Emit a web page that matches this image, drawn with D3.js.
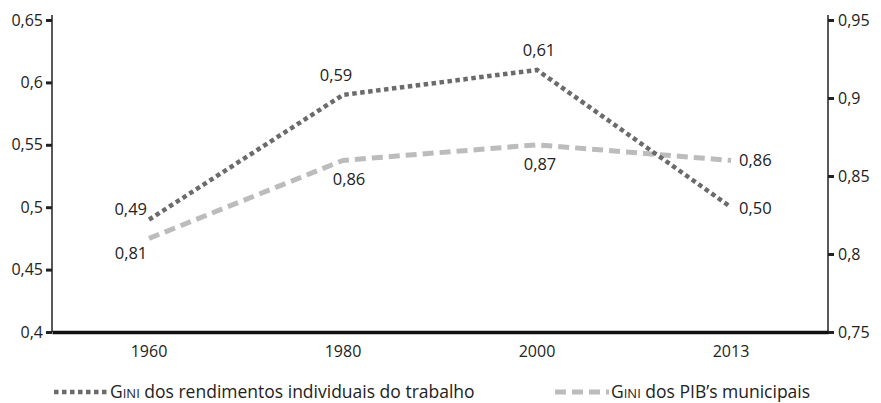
<!DOCTYPE html>
<html>
<head>
<meta charset="utf-8">
<script src="https://cdn.jsdelivr.net/npm/d3@7"></script>
<style>
  body { margin: 0; background: #fff; }
  svg { font-family: "Open Sans", "Noto Sans", sans-serif; }
</style>
</head>
<body>
<svg id="chart" width="881" height="403"></svg>
<script>
const years = ['1960', '1980', '2000', '2013'];
const giniRend = [0.49, 0.59, 0.61, 0.50];
const giniPib = [0.81, 0.86, 0.87, 0.86];
const leftTicks = [0.4, 0.45, 0.5, 0.55, 0.6, 0.65];
const rightTicks = [0.75, 0.8, 0.85, 0.9, 0.95];

// label offsets: [anchor, dx, dy] relative to the point
const rendLabelPos = [['end', -2, -5], ['middle', -7, -14], ['middle', 2, -14], ['start', 8, 7]];
const pibLabelPos = [['middle', -18, 21], ['middle', 6, 25], ['middle', 3, 25], ['start', 8, 6]];

const svg = d3.select('#chart');
const plotLeft = 52, plotRight = 828, plotTop = 20, plotBottom = 332;
const fmt = d => String(d).replace('.', ',');
const FONT = '"Open Sans", "Noto Sans", sans-serif';

const x = d3.scaleBand().domain(years).range([plotLeft, plotRight]);
const yL = d3.scaleLinear().domain([0.4, 0.65]).range([plotBottom, plotTop]);
const yR = d3.scaleLinear().domain([0.75, 0.95]).range([plotBottom, plotTop]);

const axisL = svg.append('g').attr('transform', `translate(${plotLeft},0)`)
  .call(d3.axisLeft(yL).tickValues(leftTicks).tickFormat(fmt).tickSize(6).tickPadding(3));
const axisR = svg.append('g').attr('transform', `translate(${plotRight},0)`)
  .call(d3.axisRight(yR).tickValues(rightTicks).tickFormat(fmt).tickSize(6).tickPadding(4));
[axisL, axisR].forEach(a => {
  a.select('.domain').remove();
  a.selectAll('.tick line').attr('stroke', '#222').attr('stroke-width', 3);
  a.selectAll('.tick text').attr('fill', '#222').style('font-size', '16px').style('font-family', FONT);
  a.append('line').attr('x1', 0).attr('x2', 0).attr('y1', plotTop - 5).attr('y2', plotBottom)
    .attr('stroke', '#222').attr('stroke-width', 1.5);
});

const axisB = svg.append('g').attr('transform', `translate(0,${plotBottom})`)
  .call(d3.axisBottom(x).tickSize(0).tickPadding(14));
axisB.select('.domain').attr('stroke', '#111').attr('stroke-width', 3.5);
axisB.selectAll('.tick text').attr('fill', '#222').style('font-size', '16px').style('font-family', FONT);

const cx = d => x(d) + x.bandwidth() / 2;

const lineR = d3.line().x((d, i) => cx(years[i])).y(d => yL(d));
const lineP = d3.line().x((d, i) => cx(years[i])).y(d => yR(d));

svg.append('path').datum(giniPib).attr('d', lineP)
  .attr('fill', 'none').attr('stroke', '#bcbcbc').attr('stroke-width', 5)
  .attr('stroke-dasharray', '11,6');
svg.append('path').datum(giniRend).attr('d', lineR)
  .attr('fill', 'none').attr('stroke', '#6b6b6b').attr('stroke-width', 4.5)
  .attr('stroke-dasharray', '4.5,3.5');

svg.append('g').selectAll('text').data(giniRend).join('text')
  .attr('x', (d, i) => cx(years[i]) + rendLabelPos[i][1])
  .attr('y', (d, i) => yL(d) + rendLabelPos[i][2])
  .attr('text-anchor', (d, i) => rendLabelPos[i][0])
  .attr('fill', '#222').style('font-size', '16.5px')
  .text(d => d3.format('.2f')(d).replace('.', ','));

svg.append('g').selectAll('text').data(giniPib).join('text')
  .attr('x', (d, i) => cx(years[i]) + pibLabelPos[i][1])
  .attr('y', (d, i) => yR(d) + pibLabelPos[i][2])
  .attr('text-anchor', (d, i) => pibLabelPos[i][0])
  .attr('fill', '#222').style('font-size', '16.5px')
  .text(d => d3.format('.2f')(d).replace('.', ','));

// legend
const legend = [
  { x: 54, color: '#6b6b6b', width: 4.5, dash: '4.5,3.5', rest: ' dos rendimentos individuais do trabalho' },
  { x: 555, color: '#bcbcbc', width: 5, dash: '11,6', rest: ' dos PIB\u2019s municipais' }
];
const lg = svg.append('g').selectAll('g').data(legend).join('g')
  .attr('transform', d => `translate(${d.x},392)`);
lg.append('line').attr('x1', 0).attr('x2', 54).attr('y1', 0).attr('y2', 0)
  .attr('stroke', d => d.color).attr('stroke-width', d => d.width)
  .attr('stroke-dasharray', d => d.dash);
const lt = lg.append('text').attr('x', 56).attr('y', 6).attr('fill', '#222').style('font-size', '17.5px');
lt.append('tspan').text('G');
lt.append('tspan').style('font-size', '13px').text('INI');
lt.append('tspan').text(d => d.rest);
</script>
</body>
</html>
